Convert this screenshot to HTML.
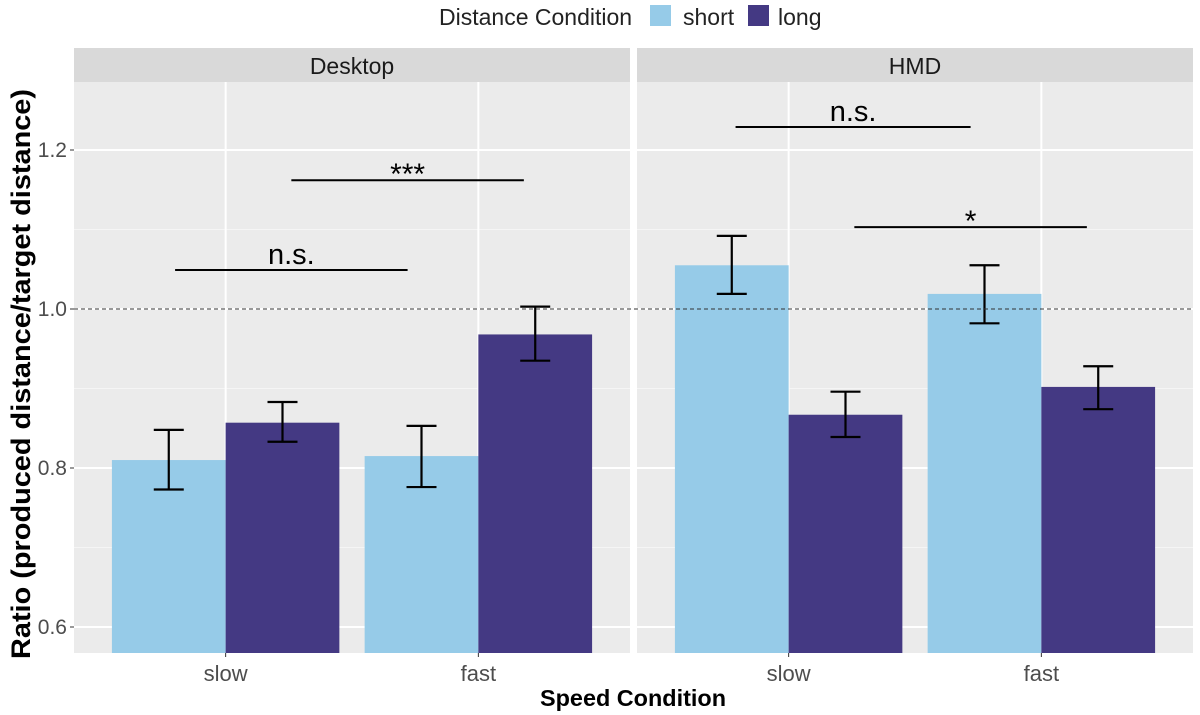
<!DOCTYPE html>
<html><head><meta charset="utf-8"><style>
body{margin:0;background:#fff;}
svg{display:block;font-family:"Liberation Sans",Arial,sans-serif;}
</style></head><body>
<svg id="chart" width="1200" height="715"></svg>
<script>
const panels = ["Desktop","HMD"];
const speeds = ["slow","fast"];
const distances = ["short","long"];
// values[panel][speed][distance]
const means = [[[0.810,0.857],[0.815,0.968]],[[1.055,0.867],[1.019,0.902]]];
const errLo = [[[0.773,0.833],[0.776,0.935]],[[1.019,0.839],[0.982,0.874]]];
const errHi = [[[0.848,0.883],[0.853,1.003]],[[1.092,0.896],[1.055,0.928]]];
const yTicks = [0.6,0.8,1.0,1.2];
const yTickLabels = ["0.6","0.8","1.0","1.2"];
const yMinor = [0.7,0.9,1.1];
const sigPanel = [0,0,1,1];
const sigFrom = [0.8,1.26,0.79,1.26];
const sigTo = [1.72,2.18,1.72,2.18];
const sigY = [1.049,1.162,1.229,1.103];
const sigLabel = ["n.s.","***","n.s.","*"];
const colors = {short:"#96cbe8",long:"#443983"};

const svg = document.getElementById('chart');
const NS = "http://www.w3.org/2000/svg";
function mk(tag, attrs, parent){const e=document.createElementNS(NS,tag);for(const k in attrs)e.setAttribute(k,attrs[k]);(parent||svg).appendChild(e);return e;}
const panelX = [74,637], panelW = 556, plotTop = 82, plotBottom = 653;
function y(v){return 627-(v-0.6)*795;}
function x(p,c){return panelX[p]+(c-0.4)/2.2*panelW;}

let t=mk('text',{x:439,y:25,'font-size':23,fill:'#222'});t.textContent="Distance Condition";


let r=mk('rect',{x:650,y:5,width:21,height:21,fill:colors.short});


t=mk('text',{x:683,y:25,'font-size':23,fill:'#222'});t.textContent="short";


r=mk('rect',{x:748,y:5,width:21,height:21,fill:colors.long});


t=mk('text',{x:778,y:25,'font-size':23,fill:'#222'});t.textContent="long";



panels.forEach((pn,p)=>{
  const g=mk('g',{});
  
  
  mk('rect',{x:panelX[p],y:48,width:panelW,height:34,fill:'#d9d9d9'},g);
  const st=mk('text',{x:panelX[p]+panelW/2,y:74,'font-size':23,fill:'#1a1a1a','text-anchor':'middle'},g);
  st.textContent=pn;
  
  
  mk('rect',{x:panelX[p],y:plotTop,width:panelW,height:plotBottom-plotTop,fill:'#ebebeb'},g);
  yMinor.forEach(v=>mk('line',{x1:panelX[p],x2:panelX[p]+panelW,y1:y(v),y2:y(v),stroke:'#f5f5f5','stroke-width':1},g));
  yTicks.forEach(v=>mk('line',{x1:panelX[p],x2:panelX[p]+panelW,y1:y(v),y2:y(v),stroke:'#fff','stroke-width':2},g));
  speeds.forEach((s,si)=>mk('line',{x1:x(p,si+1),x2:x(p,si+1),y1:plotTop,y2:plotBottom,stroke:'#fff','stroke-width':2},g));
  speeds.forEach((s,si)=>{
    distances.forEach((d,di)=>{
      const c=si+1+(di===0?-0.45:0);
      const b=mk('rect',{x:x(p,c),y:y(means[p][si][di]),width:x(p,c+0.45)-x(p,c),height:plotBottom-y(means[p][si][di]),fill:colors[d]},g);
      
      
    });
  });
  speeds.forEach((s,si)=>{
    distances.forEach((d,di)=>{
      const cx=x(p,si+1+(di===0?-0.225:0.225));
      const e=mk('path',{d:`M${cx-15},${y(errHi[p][si][di])}H${cx+15}M${cx},${y(errHi[p][si][di])}V${y(errLo[p][si][di])}M${cx-15},${y(errLo[p][si][di])}H${cx+15}`,stroke:'#000','stroke-width':2.2,fill:'none'},g);
      
      
    });
    const tl=mk('text',{x:x(p,si+1),y:681,'font-size':22,fill:'#4d4d4d','text-anchor':'middle'});
    tl.textContent=s;
    
    
  });
});
const ref=mk('line',{x1:74,x2:1193,y1:y(1.0),y2:y(1.0),stroke:'#333','stroke-width':1,'stroke-dasharray':'4,3'});


sigLabel.forEach((lab,i)=>{
  const p=sigPanel[i];
  const ly=y(sigY[i]);
  const l=mk('line',{x1:x(p,sigFrom[i]),x2:x(p,sigTo[i]),y1:ly,y2:ly,stroke:'#000','stroke-width':2});
  
  
  const ns=lab==="n.s.";
  const tt=mk('text',{x:(x(p,sigFrom[i])+x(p,sigTo[i]))/2,y:ns?ly-6:ly+4,'font-size':ns?29:30,fill:'#000','text-anchor':'middle'});
  tt.textContent=lab;
  
  
});
yTicks.forEach((v,i)=>{
  mk('line',{x1:70,x2:74,y1:y(v),y2:y(v),stroke:'#333','stroke-width':1});
  const tl=mk('text',{x:67,y:y(v)+7,'font-size':21,fill:'#4d4d4d','text-anchor':'end'});
  tl.textContent=yTickLabels[i];
  
  
});
speeds.forEach((s,si)=>panels.forEach((pn,p)=>mk('line',{x1:x(p,si+1),x2:x(p,si+1),y1:653,y2:657,stroke:'#333'})));
const yt=mk('text',{x:0,y:0,'font-size':27,'font-weight':'bold',fill:'#000','text-anchor':'middle',textLength:570,lengthAdjust:'spacingAndGlyphs',transform:'translate(30,374) rotate(-90)'});
yt.textContent="Ratio (produced distance/target distance)";


const xt=mk('text',{x:633,y:706,'font-size':23,'font-weight':'bold',fill:'#000','text-anchor':'middle',textLength:186,lengthAdjust:'spacingAndGlyphs'});
xt.textContent="Speed Condition";


</script>
</body></html>
